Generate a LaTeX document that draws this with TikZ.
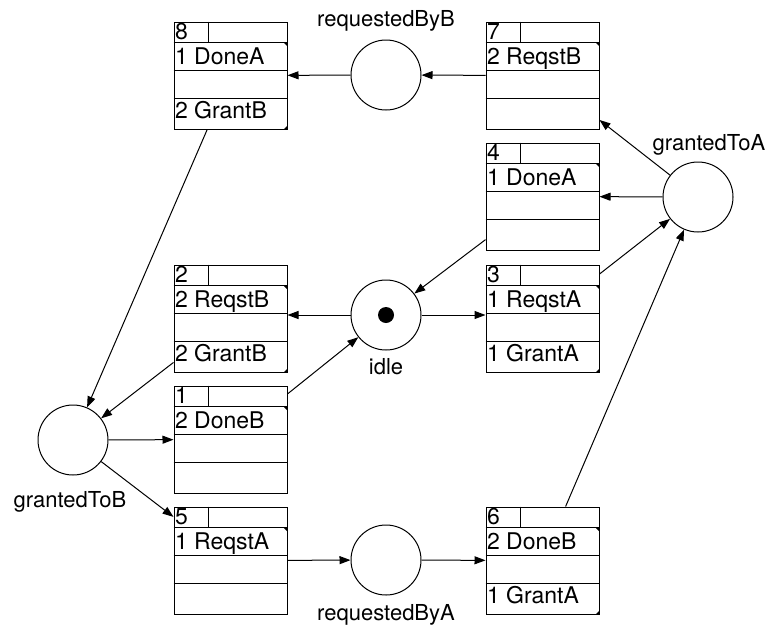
\documentclass[tikz,border=0pt]{standalone}
\usepackage{fontspec}
\setmainfont{TeX Gyre Heros}
\usetikzlibrary{arrows.meta}

% transition box: name, x, y, number, input row, output row
\newcommand{\tbox}[6]{%
  \node[tbox] (#1) at (#2,#3) {};
  \draw ([yshift=-21pt]#1.north west) -- ([yshift=-21pt]#1.north east);
  \draw ([yshift=-49pt]#1.north west) -- ([yshift=-49pt]#1.north east);
  \draw ([yshift=-77pt]#1.north west) -- ([yshift=-77pt]#1.north east);
  \draw ([xshift=35pt]#1.north west) -- ([xshift=35pt,yshift=-21pt]#1.north west);
  \fill ([xshift=-4pt,yshift=-21pt]#1.north east) -- ([yshift=-21pt]#1.north east)
        -- ([yshift=-25pt]#1.north east) -- cycle;
  \node[boxtext] (#1-num) at ([xshift=1pt,yshift=-18pt]#1.north west) {#4};
  \node[boxtext] (#1-in) at ([xshift=1pt,yshift=-43pt]#1.north west) {#5};
  \node[boxtext] (#1-out) at ([xshift=1pt,yshift=-97pt]#1.north west) {#6};
}
\newcommand{\outmark}[1]{%
  \fill ([xshift=-4pt]#1.south east) -- (#1.south east) -- ([yshift=4pt]#1.south east) -- cycle;
}

\begin{document}
\begin{tikzpicture}[x=1pt,y=-1pt,line width=1pt,
    tbox/.style={draw,rectangle,minimum width=113pt,minimum height=107pt,inner sep=0pt},
    boxtext/.style={anchor=base west,inner sep=0pt,font=\fontsize{23}{26}\selectfont},
    place/.style={draw,circle,minimum size=70pt,inner sep=0pt},
    token/.style={fill,circle,minimum size=16pt,inner sep=0pt},
    lbl/.style={anchor=base,inner sep=0pt,font=\fontsize{22}{26}\selectfont},
    arc/.style={-{Triangle[length=11pt,width=8pt]}}]
    \useasboundingbox (0,0) rectangle (770,627);

    % places
    \node[place] (rqB) at (386,75) {};
    \node[place] (gA) at (698,197) {};
    \node[place] (idle) at (386,315) {};
    \node[place] (gB) at (73,440) {};
    \node[place] (rqA) at (386,560) {};
    \node[token] (tok) at (idle) {};

    \node[lbl] (l-rqB) at (386,26) {requestedByB};
    \node[lbl] (l-gA) at (709,150) {grantedToA};
    \node[lbl] (l-idle) at (386,374) {idle};
    \node[lbl] (l-gB) at (70,507) {grantedToB};
    \node[lbl] (l-rqA) at (386,620) {requestedByA};

    % transitions
    \tbox{b8}{230.5}{75.5}{8}{1 DoneA}{2 GrantB}
    \tbox{b7}{542.5}{75.5}{7}{2 ReqstB}{}
    \tbox{b4}{542.5}{196.5}{4}{1 DoneA}{}
    \tbox{b3}{542.5}{318.5}{3}{1 ReqstA}{1 GrantA}
    \tbox{b2}{230.5}{318.5}{2}{2 ReqstB}{2 GrantB}
    \tbox{b1}{230.5}{439.5}{1}{2 DoneB}{}
    \tbox{b5}{230.5}{560.5}{5}{1 ReqstA}{}
    \tbox{b6}{542.5}{560.5}{6}{2 DoneB}{1 GrantA}
    \outmark{b8}
    \outmark{b2}
    \outmark{b3}
    \outmark{b6}

    % arcs
    \draw[arc] (b7) -- (rqB);
    \draw[arc] (rqB) -- (b8);
    \draw[arc] (gA) -- (b7);
    \draw[arc] (gA) -- (b4);
    \draw[arc] (b3) -- (gA);
    \draw[arc] (b6) -- (gA);
    \draw[arc] (b4) -- (idle);
    \draw[arc] (idle) -- (idle -| b2.east);
    \draw[arc] (idle) -- (idle -| b3.west);
    \draw[arc] (b1) -- (idle);
    \draw[arc] (b2) -- (gB);
    \draw[arc] (b8) -- (gB);
    \draw[arc] (gB) -- (b1);
    \draw[arc] (gB) -- (b5);
    \draw[arc] (b5) -- (rqA);
    \draw[arc] (rqA) -- (b6);

\end{tikzpicture}
\end{document}
